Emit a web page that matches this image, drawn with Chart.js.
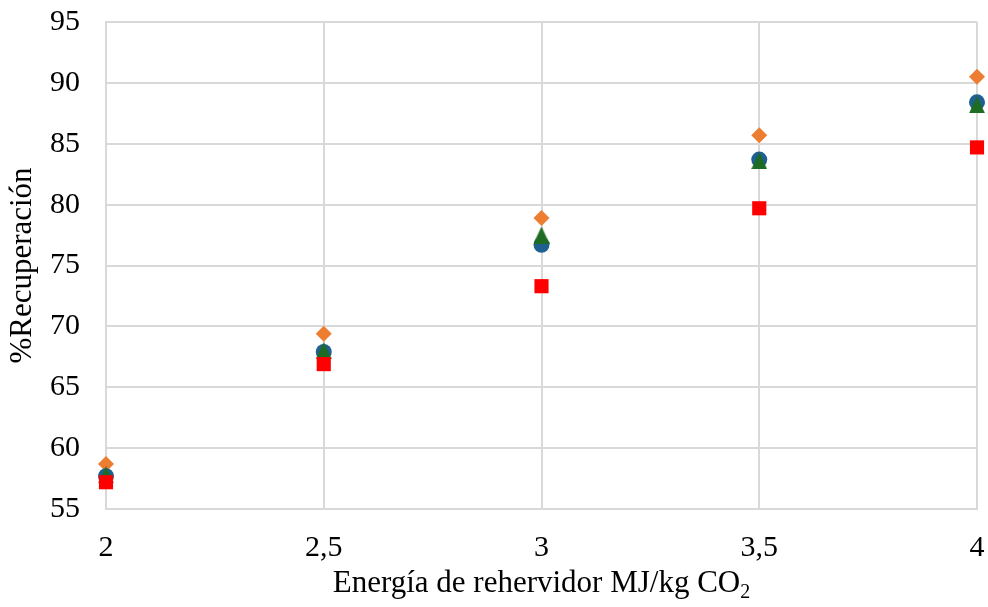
<!DOCTYPE html>
<html>
<head>
<meta charset="utf-8">
<script src="https://cdn.jsdelivr.net/npm/chart.js@4/dist/chart.umd.min.js"></script>
<style>
  html, body { margin: 0; padding: 0; background: #ffffff; }
  #wrap { width: 988px; height: 607px; position: relative; }
</style>
</head>
<body>
<div id="wrap"><canvas id="chart"></canvas></div>
<script>
// Reboiler energy (MJ/kg CO2) on the x axis
const energia = [2, 2.5, 3, 3.5, 4];
const xTickLabels = ['2', '2,5', '3', '3,5', '4'];

// % recovery for each series
const serieNaranja = [58.7, 69.4, 78.9, 85.7, 90.5];
const serieAzul    = [57.7, 67.9, 76.7, 83.7, 88.4];
const serieVerde   = [57.8, 68.0, 77.5, 83.6, 88.2];
const serieRoja    = [57.2, 66.9, 73.3, 79.7, 84.7];

const FONT = "'Liberation Serif', 'Times New Roman', serif";

function pts(ys) {
  return energia.map((x, i) => ({ x: x, y: ys[i] }));
}

// Triangle marker centred on its bounding box
function trianguloMarker(color, w, h) {
  const c = document.createElement('canvas');
  c.width = w; c.height = h;
  const g = c.getContext('2d');
  g.fillStyle = color;
  g.beginPath();
  g.moveTo(w / 2, 0);
  g.lineTo(w, h);
  g.lineTo(0, h);
  g.closePath();
  g.fill();
  return c;
}

// Axis title with subscript drawn under the plot area
const xTitlePlugin = {
  id: 'xTitle',
  afterDraw(chart) {
    const ctx = chart.ctx;
    const area = chart.chartArea;
    const main = 'Energía de rehervidor MJ/kg CO';
    const sub = '2';
    ctx.save();
    ctx.fillStyle = '#000000';
    ctx.textBaseline = 'alphabetic';
    ctx.font = '31px ' + FONT;
    const wMain = ctx.measureText(main).width;
    ctx.font = '20px ' + FONT;
    const wSub = ctx.measureText(sub).width;
    const total = wMain + wSub;
    const cx = (area.left + area.right) / 2;
    const x0 = cx - total / 2;
    const base = 592;
    ctx.font = '31px ' + FONT;
    ctx.textAlign = 'left';
    ctx.fillText(main, x0, base);
    ctx.font = '20px ' + FONT;
    ctx.fillText(sub, x0 + wMain, base + 6);
    ctx.restore();
  }
};

new Chart(document.getElementById('chart'), {
  type: 'scatter',
  data: {
    datasets: [
      {
        label: 'Serie roja',
        data: pts(serieRoja),
        pointStyle: 'rect',
        pointRadius: 10,
        pointBackgroundColor: '#ff0000',
        pointBorderWidth: 0,
        clip: false,
        order: 0
      },
      {
        label: 'Serie verde',
        data: pts(serieVerde),
        pointStyle: trianguloMarker('#1e6b24', 16, 17),
        pointRadius: 9,
        pointBorderWidth: 0,
        clip: false,
        order: 1
      },
      {
        label: 'Serie azul',
        data: pts(serieAzul),
        pointStyle: 'circle',
        pointRadius: 8,
        pointBackgroundColor: '#1f6090',
        pointBorderWidth: 0,
        clip: false,
        order: 2
      },
      {
        label: 'Serie naranja',
        data: pts(serieNaranja),
        pointStyle: 'rectRot',
        pointRadius: 8,
        pointBackgroundColor: '#ed7d31',
        pointBorderWidth: 0,
        clip: false,
        order: 3
      }
    ]
  },
  options: {
    responsive: true,
    maintainAspectRatio: false,
    animation: false,
    layout: { padding: { top: 22, right: 11, left: 0, bottom: 0 } },
    plugins: {
      legend: { display: false },
      tooltip: { enabled: false }
    },
    scales: {
      x: {
        type: 'linear',
        min: 2,
        max: 4,
        afterFit(scale) {
          scale.height = 98;
          scale.paddingLeft = 0;
          scale.paddingRight = 0;
        },
        ticks: {
          stepSize: 0.5,
          padding: 21,
          color: '#000000',
          font: { family: FONT, size: 30 },
          callback: (v) => {
            const i = energia.indexOf(v);
            return i >= 0 ? xTickLabels[i] : '';
          }
        },
        grid: { color: '#d9d9d9', lineWidth: 2, drawTicks: false },
        border: { color: '#d9d9d9', width: 2 }
      },
      y: {
        min: 55,
        max: 95,
        afterFit(scale) {
          scale.width = 106;
          scale.paddingTop = 0;
          scale.paddingBottom = 0;
        },
        ticks: {
          stepSize: 5,
          padding: 26,
          color: '#000000',
          font: { family: FONT, size: 30 }
        },
        grid: { color: '#d9d9d9', lineWidth: 2, drawTicks: false },
        border: { color: '#d9d9d9', width: 2 },
        title: {
          display: true,
          text: '%Recuperación',
          color: '#000000',
          font: { family: FONT, size: 31 },
          padding: { top: 4, bottom: 0 }
        }
      }
    }
  },
  plugins: [xTitlePlugin]
});
</script>
</body>
</html>
